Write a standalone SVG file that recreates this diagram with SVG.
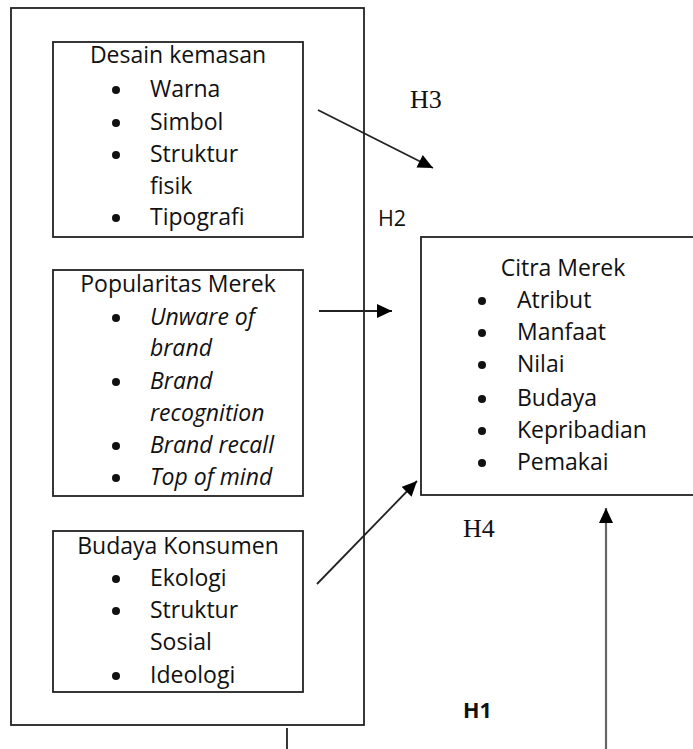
<svg xmlns="http://www.w3.org/2000/svg" width="693" height="749" viewBox="0 0 693 749">
<style>
.box{fill:none;stroke:#222;stroke-width:1.8}
.t{font-family:"Open Sans","Liberation Sans",sans-serif;font-size:23px;fill:#111}
.h{font-family:"Open Sans","Liberation Sans",sans-serif;font-size:21.5px;fill:#111}
.c{text-anchor:middle}
.i{font-style:italic}
.b{font-family:"Liberation Serif",serif;font-size:26px;fill:#111}
.conn{stroke:#222;stroke-width:1.8;fill:none}
</style>
<defs>
<marker id="ah" markerUnits="userSpaceOnUse" markerWidth="16" markerHeight="14" refX="15" refY="7" orient="auto">
<path d="M0,0 L15,7 L0,14 Z" fill="#000"/>
</marker>
</defs>
<rect width="693" height="749" fill="#fff"/>
<g id="outer"><rect class="box" x="11" y="8" width="353" height="717"/></g>
<g id="desain">
<rect class="box" x="53" y="42" width="250" height="195"/>
<text class="t c" x="178" y="63">Desain kemasan</text>
<g class="t">
<circle cx="116" cy="90" r="4"/><text x="150" y="97">Warna</text>
<circle cx="116" cy="123" r="4"/><text x="150" y="130">Simbol</text>
<circle cx="116" cy="155" r="4"/><text x="150" y="162">Struktur</text>
<text x="150" y="194">fisik</text>
<circle cx="116" cy="218" r="4"/><text x="150" y="225">Tipografi</text>
</g>
</g>
<g id="popularitas">
<rect class="box" x="53" y="270" width="250" height="226"/>
<text class="t c" x="178" y="292">Popularitas Merek</text>
<g class="t i">
<circle cx="116" cy="318" r="4"/><text x="150" y="325">Unware of</text>
<text x="150" y="356">brand</text>
<circle cx="116" cy="382" r="4"/><text x="150" y="389">Brand</text>
<text x="150" y="421">recognition</text>
<circle cx="116" cy="446" r="4"/><text x="150" y="453">Brand recall</text>
<circle cx="116" cy="478" r="4"/><text x="150" y="485">Top of mind</text>
</g>
</g>
<g id="budaya">
<rect class="box" x="53" y="531" width="250" height="161"/>
<text class="t c" x="178" y="554">Budaya Konsumen</text>
<g class="t">
<circle cx="116" cy="579" r="4"/><text x="150" y="586">Ekologi</text>
<circle cx="116" cy="611" r="4"/><text x="150" y="618">Struktur</text>
<text x="150" y="650">Sosial</text>
<circle cx="116" cy="676" r="4"/><text x="150" y="683">Ideologi</text>
</g>
</g>
<g id="citra">
<rect class="box" x="421" y="237" width="290" height="258"/>
<text class="t c" x="563" y="276">Citra Merek</text>
<g class="t">
<circle cx="482" cy="301" r="4"/><text x="517" y="308">Atribut</text>
<circle cx="482" cy="333" r="4"/><text x="517" y="340">Manfaat</text>
<circle cx="482" cy="365" r="4"/><text x="517" y="372">Nilai</text>
<circle cx="482" cy="399" r="4"/><text x="517" y="406">Budaya</text>
<circle cx="482" cy="431" r="4"/><text x="517" y="438">Kepribadian</text>
<circle cx="482" cy="463" r="4"/><text x="517" y="470">Pemakai</text>
</g>
</g>
<g id="connectors">
<line class="conn" x1="318" y1="110" x2="433" y2="168" marker-end="url(#ah)"/>
<line class="conn" x1="319" y1="311" x2="392" y2="311" marker-end="url(#ah)"/>
<line class="conn" x1="317" y1="584" x2="417" y2="481" marker-end="url(#ah)"/>
<line x1="606" y1="749" x2="606" y2="508" stroke="#666" stroke-width="2.2" marker-end="url(#ah)"/>
<line class="conn" x1="287" y1="728" x2="287" y2="749"/>
</g>
<g id="labels">
<text class="b" x="410" y="108">H3</text>
<text class="h" x="378" y="226">H2</text>
<text class="b" x="463" y="537">H4</text>
<text class="h" x="463" y="718" font-weight="bold">H1</text>
</g>
</svg>
